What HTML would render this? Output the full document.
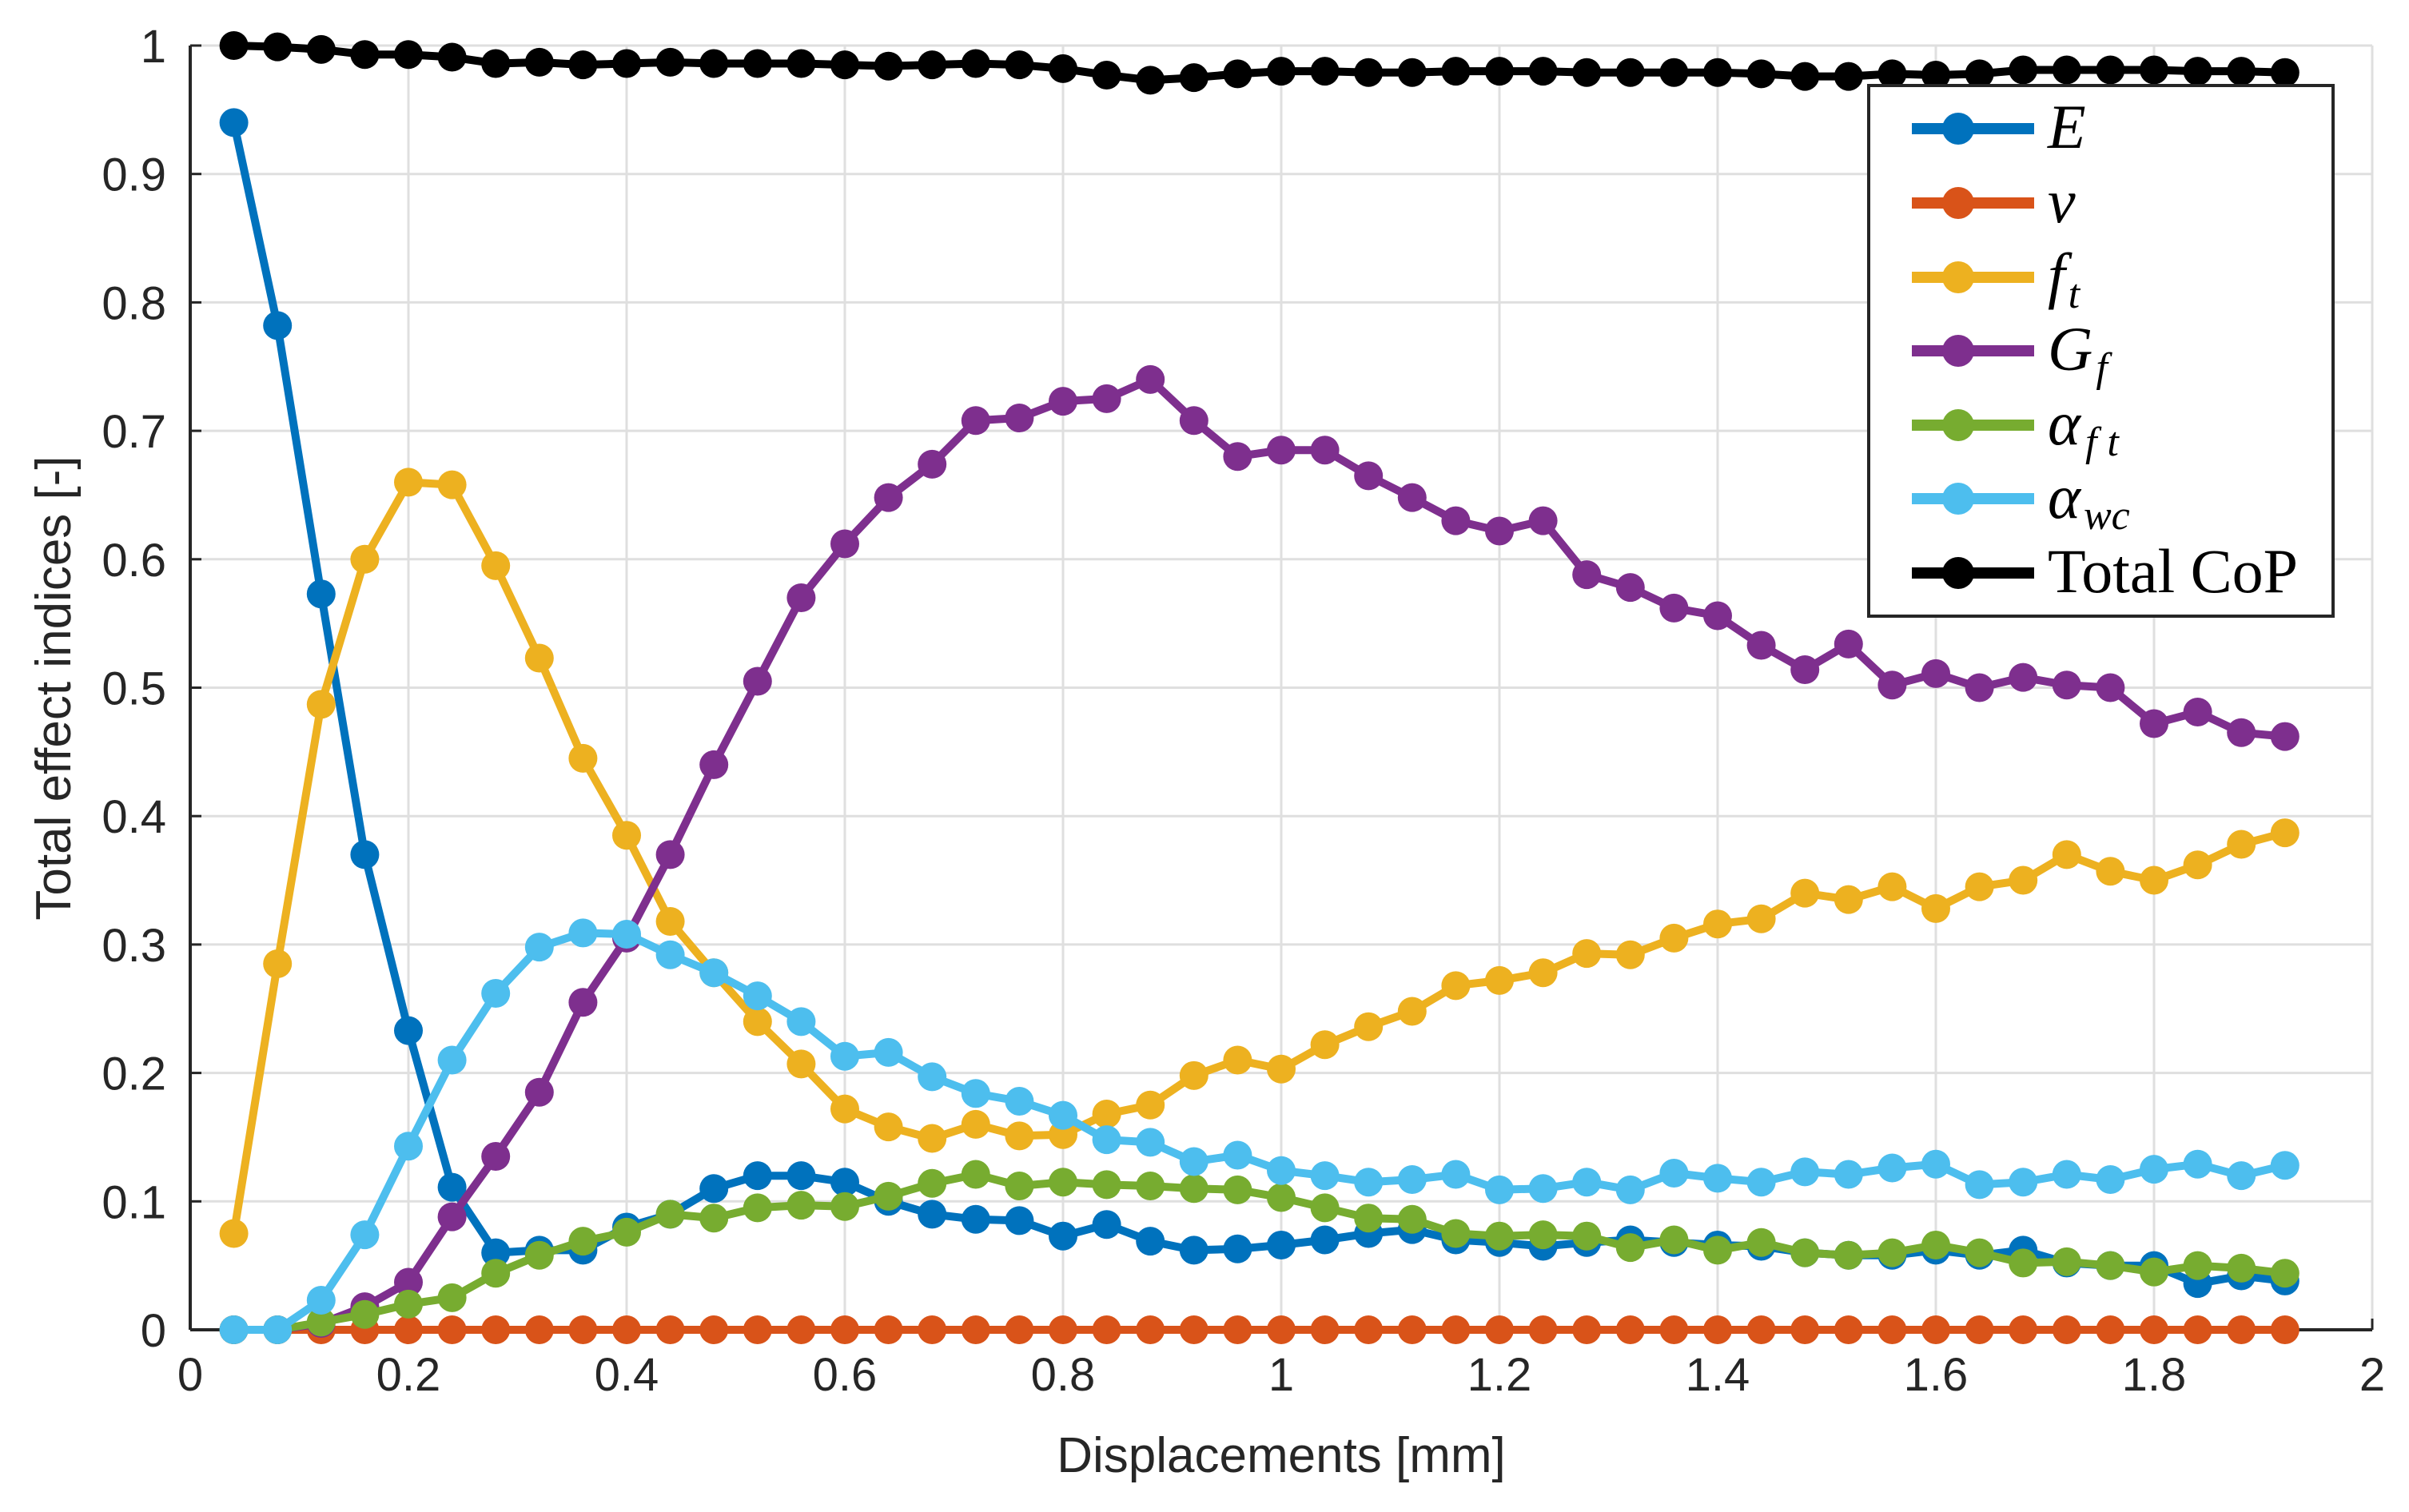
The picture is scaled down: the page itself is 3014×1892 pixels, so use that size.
<!DOCTYPE html>
<html><head><meta charset="utf-8"><style>
html,body{margin:0;padding:0;background:#fff}
svg{display:block}
</style></head><body>
<svg id="chart" xmlns="http://www.w3.org/2000/svg" width="3014" height="1892" viewBox="0 0 3014 1892">
<rect width="3014" height="1892" fill="#fff"/>
<g id="grid"></g>
<g id="axes"></g>
<g id="series"></g>
<g id="legend"></g>
</svg>
<script>
const xs = [0.04,0.08,0.12,0.16,0.20,0.24,0.28,0.32,0.36,0.40,0.44,0.48,0.52,0.56,0.60,0.64,0.68,0.72,0.76,0.80,0.84,0.88,0.92,0.96,1.00,1.04,1.08,1.12,1.16,1.20,1.24,1.28,1.32,1.36,1.40,1.44,1.48,1.52,1.56,1.60,1.64,1.68,1.72,1.76,1.80,1.84,1.88,1.92];
const seriesE = [0.94,0.782,0.573,0.37,0.233,0.111,0.06,0.062,0.062,0.08,0.09,0.11,0.12,0.12,0.115,0.10,0.09,0.086,0.085,0.073,0.082,0.069,0.062,0.063,0.066,0.07,0.075,0.078,0.07,0.068,0.065,0.068,0.07,0.068,0.066,0.065,0.06,0.058,0.058,0.062,0.058,0.062,0.052,0.05,0.05,0.036,0.042,0.038];
const seriesNu = [0,0,0,0,0,0,0,0,0,0,0,0,0,0,0,0,0,0,0,0,0,0,0,0,0,0,0,0,0,0,0,0,0,0,0,0,0,0,0,0,0,0,0,0,0,0,0,0];
const seriesFt = [0.075,0.285,0.487,0.60,0.66,0.658,0.595,0.523,0.445,0.385,0.318,0.278,0.24,0.207,0.172,0.158,0.149,0.16,0.151,0.152,0.168,0.175,0.198,0.21,0.203,0.222,0.236,0.248,0.268,0.272,0.278,0.293,0.292,0.305,0.316,0.32,0.34,0.335,0.345,0.328,0.345,0.35,0.37,0.357,0.35,0.362,0.378,0.387];
const seriesGf = [0,0,0.005,0.018,0.037,0.088,0.135,0.185,0.255,0.305,0.37,0.44,0.505,0.57,0.612,0.648,0.674,0.708,0.71,0.723,0.725,0.74,0.708,0.68,0.685,0.685,0.665,0.648,0.63,0.622,0.63,0.588,0.578,0.562,0.556,0.533,0.514,0.534,0.502,0.511,0.5,0.508,0.502,0.5,0.472,0.481,0.465,0.462];
const seriesAft = [0,0,0.006,0.012,0.02,0.025,0.044,0.058,0.069,0.076,0.09,0.087,0.095,0.097,0.096,0.104,0.114,0.121,0.112,0.115,0.113,0.112,0.11,0.109,0.103,0.095,0.087,0.086,0.075,0.073,0.074,0.073,0.064,0.07,0.062,0.068,0.06,0.058,0.06,0.066,0.06,0.052,0.053,0.05,0.045,0.05,0.048,0.044];
const seriesAwc = [0,0,0.023,0.074,0.143,0.21,0.262,0.298,0.309,0.308,0.292,0.278,0.26,0.24,0.213,0.216,0.197,0.184,0.178,0.167,0.148,0.146,0.131,0.136,0.124,0.12,0.115,0.117,0.121,0.109,0.11,0.115,0.109,0.122,0.118,0.115,0.123,0.121,0.126,0.129,0.113,0.115,0.121,0.117,0.125,0.129,0.12,0.128];
const seriesTotal = [1,0.999,0.997,0.993,0.993,0.991,0.986,0.987,0.985,0.986,0.987,0.986,0.986,0.986,0.985,0.984,0.985,0.986,0.985,0.982,0.977,0.973,0.975,0.978,0.98,0.98,0.979,0.979,0.98,0.98,0.98,0.979,0.979,0.979,0.979,0.978,0.976,0.976,0.978,0.977,0.978,0.981,0.981,0.981,0.981,0.98,0.98,0.979];
const xTicks = [0,0.2,0.4,0.6,0.8,1,1.2,1.4,1.6,1.8,2];
const yTicks = [0,0.1,0.2,0.3,0.4,0.5,0.6,0.7,0.8,0.9,1];
const xTickLabels = ["0","0.2","0.4","0.6","0.8","1","1.2","1.4","1.6","1.8","2"];
const yTickLabels = ["0","0.1","0.2","0.3","0.4","0.5","0.6","0.7","0.8","0.9","1"];

const NS = "http://www.w3.org/2000/svg";
const X0 = 238, X1 = 2968, Y0 = 1664, Y1 = 57;
function sx(v){ return X0 + (v - 0) / 2 * (X1 - X0); }
function sy(v){ return Y0 - v * (Y0 - Y1); }
function mk(tag, attrs, parent){ const e = document.createElementNS(NS, tag); for (const k in attrs) e.setAttribute(k, attrs[k]); parent.appendChild(e); return e; }

const grid = document.getElementById('grid');
const axes = document.getElementById('axes');
xTicks.forEach((t, i) => {
  const g = mk('line', {x1: sx(t), x2: sx(t), y1: Y1, y2: Y0, stroke: '#dfdfdf', 'stroke-width': 3}, grid);
  
  
  const tk = mk('line', {x1: sx(t), x2: sx(t), y1: Y0, y2: Y0 - 14, stroke: '#262626', 'stroke-width': 3}, axes);
  
  
  const tx = mk('text', {x: sx(t), y: 1740, 'text-anchor': 'middle', 'font-family': 'Liberation Sans, sans-serif', 'font-size': 58, fill: '#262626'}, axes);
  tx.textContent = xTickLabels[i];
  
  
});
yTicks.forEach((t, i) => {
  const g = mk('line', {x1: X0, x2: X1, y1: sy(t), y2: sy(t), stroke: '#dfdfdf', 'stroke-width': 3}, grid);
  
  
  const tk = mk('line', {x1: X0, x2: X0 + 14, y1: sy(t), y2: sy(t), stroke: '#262626', 'stroke-width': 3}, axes);
  
  
  const tx = mk('text', {x: 208, y: sy(t) + 21, 'text-anchor': 'end', 'font-family': 'Liberation Sans, sans-serif', 'font-size': 58, fill: '#262626'}, axes);
  tx.textContent = yTickLabels[i];
  
  
});
const ax1 = mk('line', {x1: X0, x2: X0, y1: Y1, y2: Y0, stroke: '#262626', 'stroke-width': 4}, axes);


const ax2 = mk('line', {x1: X0, x2: X1, y1: Y0, y2: Y0, stroke: '#262626', 'stroke-width': 4}, axes);


const xl = mk('text', {x: 1603, y: 1842, 'text-anchor': 'middle', 'font-family': 'Liberation Sans, sans-serif', 'font-size': 62, fill: '#262626'}, axes);
xl.textContent = 'Displacements [mm]';


const yl = mk('text', {x: 0, y: 0, transform: 'translate(88,861) rotate(-90)', 'text-anchor': 'middle', 'font-family': 'Liberation Sans, sans-serif', 'font-size': 62, fill: '#262626'}, axes);
yl.textContent = 'Total effect indices [-]';



const defs = [
  {vals: seriesE, color: '#0072BD', name: 'series-e'},
  {vals: seriesNu, color: '#D95319', name: 'series-nu'},
  {vals: seriesFt, color: '#EDB120', name: 'series-ft'},
  {vals: seriesGf, color: '#7E2F8E', name: 'series-gf'},
  {vals: seriesAft, color: '#77AC30', name: 'series-alpha-ft'},
  {vals: seriesAwc, color: '#4DBEEE', name: 'series-alpha-wc'},
  {vals: seriesTotal, color: '#000000', name: 'series-total-cop'}
];
const sg = document.getElementById('series');
defs.forEach(d => {
  const g = mk('g', {}, sg);
  
  
  const pts = d.vals.map((v, i) => sx(xs[i]).toFixed(1) + ',' + sy(v).toFixed(1)).join(' ');
  const pl = mk('polyline', {points: pts, fill: 'none', stroke: d.color, 'stroke-width': 10, 'stroke-linejoin': 'round'}, g);
  
  
  d.vals.forEach((v, i) => {
    const c = mk('circle', {cx: sx(xs[i]), cy: sy(v), r: 18, fill: d.color}, g);
    
    
  });
});

const lg = document.getElementById('legend');
const box = mk('rect', {x: 2338, y: 107, width: 581, height: 664, fill: '#fff', stroke: '#262626', 'stroke-width': 4}, lg);


const rowsY = [161, 254, 347, 439, 532, 624, 717];
const labels = [
  ['<tspan font-style="italic">E</tspan>'],
  ['<tspan font-style="italic">ν</tspan>'],
  ['<tspan font-style="italic">f</tspan><tspan font-style="italic" font-size="52" dy="14" dx="4">t</tspan>'],
  ['<tspan font-style="italic">G</tspan><tspan font-style="italic" font-size="52" dy="14" dx="4">f</tspan>'],
  ['<tspan font-style="italic">α</tspan><tspan font-style="italic" font-size="52" dy="14" dx="6">f t</tspan>'],
  ['<tspan font-style="italic">α</tspan><tspan font-style="italic" font-size="52" dy="14" dx="4">wc</tspan>'],
  ['Total CoP']
];
defs.forEach((d, i) => {
  const g = mk('g', {}, lg);
  
  
  mk('line', {x1: 2392, x2: 2545, y1: rowsY[i], y2: rowsY[i], stroke: d.color, 'stroke-width': 14}, g);
  mk('circle', {cx: 2450, cy: rowsY[i], r: 20, fill: d.color}, g);
  const t = mk('text', {x: 2562, y: rowsY[i] + 24, 'font-family': 'Liberation Serif, serif', 'font-size': 78, fill: '#000'}, g);
  t.innerHTML = labels[i][0];
  
  
});
</script>
</body></html>
